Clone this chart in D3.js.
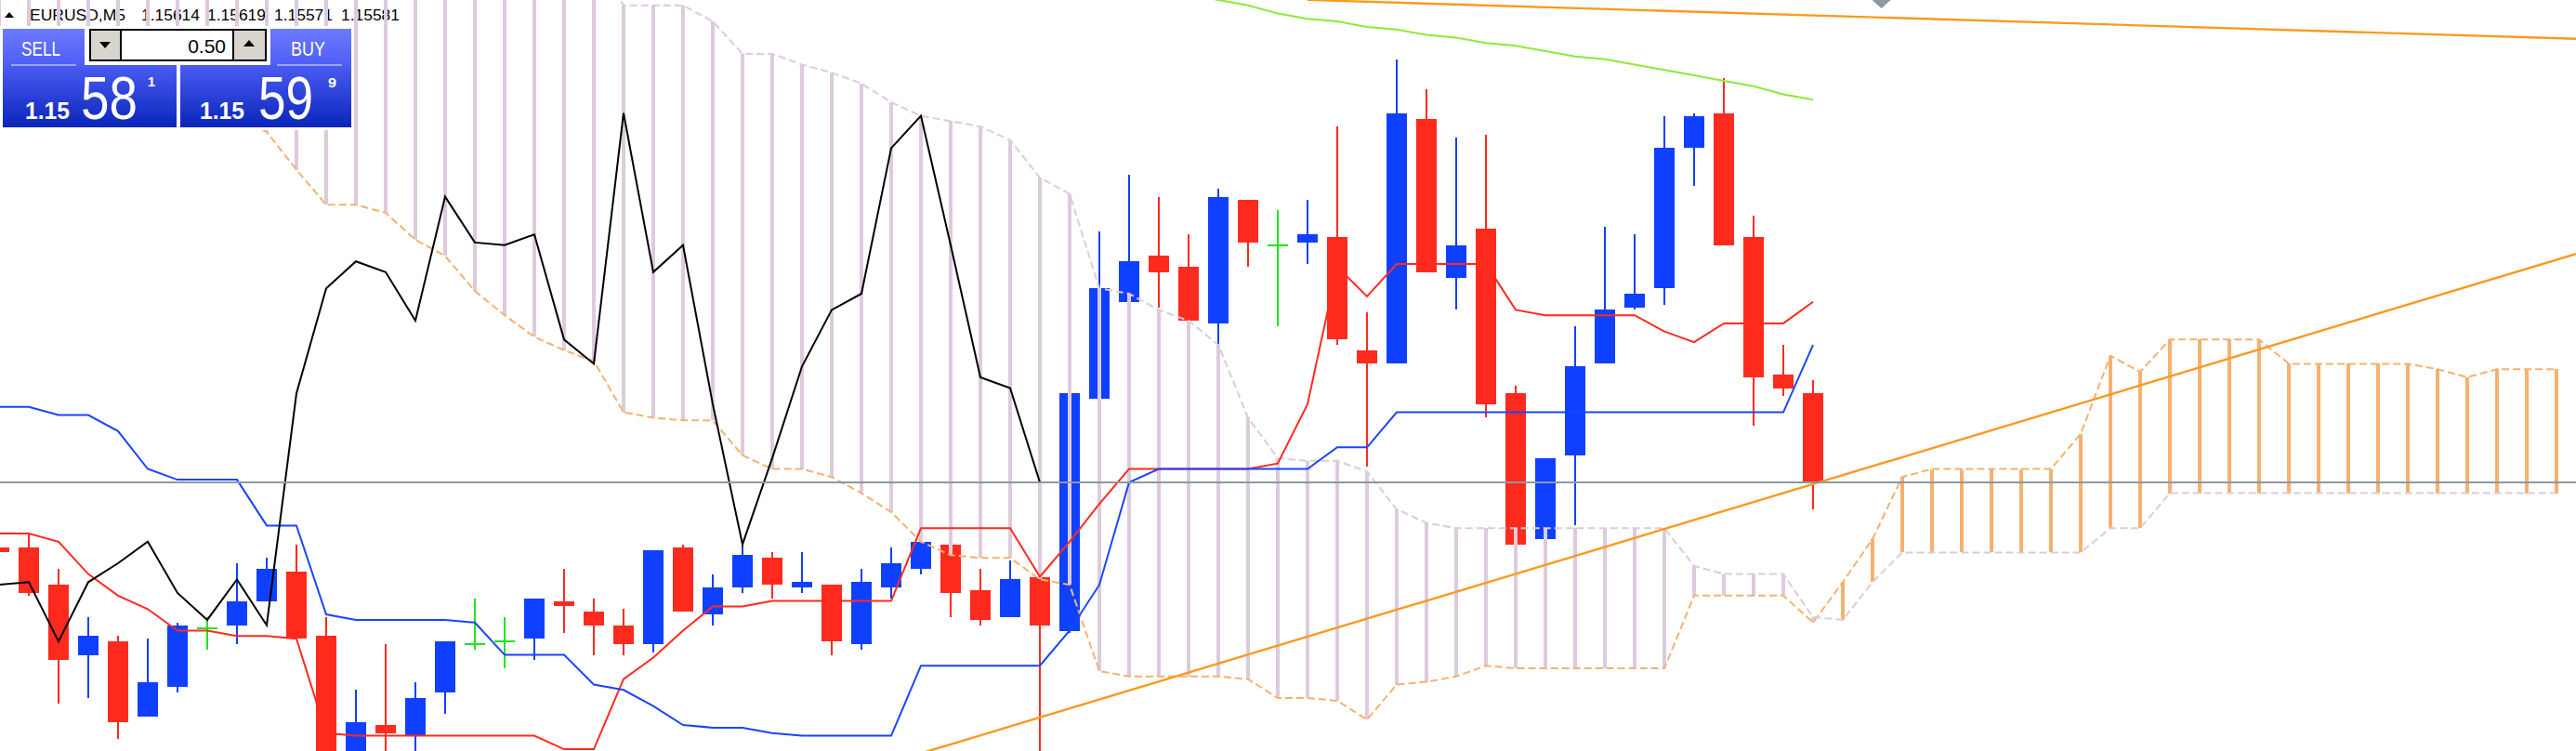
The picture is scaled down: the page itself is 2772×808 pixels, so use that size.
<!DOCTYPE html>
<html>
<head>
<meta charset="utf-8">
<script src="https://cdn.jsdelivr.net/npm/d3@7/dist/d3.min.js"></script>
<style>
html, body { margin: 0; padding: 0; background: #fff; overflow: hidden; }
svg { display: block; }
</style>
</head>
<body>
<script>
var w = 2772;
var h = 808;

// EURUSD M5 candles (bar 0 = leftmost, partly cut)
var open  = [1.15557,1.15557,1.15543,1.15517,1.15522,1.15494,1.15505,1.15527,1.15528,1.15537,
             1.15548,1.15524,1.15479,1.15491,1.15487,1.15503,1.15521,1.15522,1.15523,1.15537,
             1.15533,1.15528,1.15521,1.15557,1.15532,1.15542,1.15553,1.15542,1.15543,1.15521,
             1.15542,1.15549,1.15558,1.15541,1.15531,1.15546,1.15526,1.15612,1.15648,1.15665,
             1.15661,1.15640,1.15686,1.15669,1.15670,1.15672,1.15630,1.15625,1.15716,1.15657,
             1.15675,1.15614,1.15560,1.15591,1.15625,1.15646,1.15653,1.15705,1.15718,1.15672,
             1.15621,1.15614];
var high  = [1.15559,1.15562,1.15549,1.15531,1.15524,1.15523,1.15529,1.15531,1.15551,1.15553,
             1.15558,1.15531,1.15504,1.15521,1.15507,1.15522,1.15538,1.15531,1.15538,1.15549,
             1.15538,1.15534,1.15556,1.15558,1.15547,1.15558,1.15555,1.15555,1.15543,1.15549,
             1.15557,1.15559,1.15558,1.15549,1.15552,1.15547,1.15614,1.15674,1.15695,1.15687,
             1.15673,1.15690,1.15686,1.15682,1.15686,1.15713,1.15644,1.15738,1.15727,1.15709,
             1.15710,1.15617,1.15590,1.15639,1.15676,1.15673,1.15717,1.15718,1.15731,1.15680,
             1.15632,1.15619];
var low   = [1.15553,1.15539,1.15499,1.15501,1.15486,1.15494,1.15503,1.15519,1.15521,1.15537,
             1.15523,1.15469,1.15474,1.15470,1.15474,1.15495,1.15519,1.15512,1.15515,1.15525,
             1.15517,1.15517,1.15518,1.15533,1.15528,1.15540,1.15538,1.15540,1.15517,1.15519,
             1.15538,1.15547,1.15531,1.15528,1.15531,1.15474,1.15525,1.15612,1.15648,1.15646,
             1.15641,1.15632,1.15661,1.15639,1.15662,1.15632,1.15587,1.15625,1.15659,1.15645,
             1.15605,1.15558,1.15560,1.15565,1.15625,1.15645,1.15647,1.15691,1.15669,1.15602,
             1.15613,1.15571];
var close = [1.15555,1.15540,1.15515,1.15524,1.15492,1.15507,1.15528,1.15527,1.15537,1.15549,
             1.15523,1.15474,1.15492,1.15488,1.15501,1.15522,1.15521,1.15522,1.15538,1.15535,
             1.15528,1.15521,1.15556,1.15533,1.15542,1.15554,1.15543,1.15544,1.15522,1.15544,
             1.15551,1.15559,1.15540,1.15530,1.15545,1.15528,1.15614,1.15653,1.15663,1.15659,
             1.15641,1.15687,1.15670,1.15669,1.15673,1.15634,1.15625,1.15718,1.15659,1.15669,
             1.15610,1.15558,1.15590,1.15624,1.15645,1.15651,1.15705,1.15717,1.15669,1.15620,
             1.15616,1.15581];

// Ichimoku
var tenkan = [1.15562,1.15562,1.15559,1.15547,1.15539,1.15534,1.15526,1.15526,1.15524,1.15524,
              1.15523,1.15488,1.15487,1.15487,1.15487,1.15487,1.15487,1.15487,1.15487,1.15482,
              1.15482,1.15508,1.15516,1.15526,1.15535,1.15535,1.15537,1.15537,1.15537,1.15537,
              1.15537,1.15564,1.15564,1.15564,1.15564,1.15546,1.15559,1.15573,1.15586,1.15586,
              1.15586,1.15586,1.15586,1.15588,1.15610,1.15661,1.15650,1.15662,1.15662,1.15662,
              1.15662,1.15645,1.15643,1.15643,1.15643,1.15643,1.15637,1.15633,1.15640,1.15640,
              1.15640,1.15648];
var kijun  = [1.15609,1.15609,1.15606,1.15606,1.15600,1.15586,1.15582,1.15582,1.15582,1.15565,
              1.15565,1.15532,1.15530,1.15530,1.15530,1.15530,1.15529,1.15517,1.15517,1.15517,
              1.15506,1.15504,1.15498,1.15491,1.15490,1.15490,1.15488,1.15487,1.15487,1.15487,
              1.15487,1.15513,1.15513,1.15513,1.15513,1.15513,1.15526,1.15543,1.15581,1.15586,
              1.15586,1.15586,1.15586,1.15586,1.15586,1.15594,1.15594,1.15607,1.15607,1.15607,
              1.15607,1.15607,1.15607,1.15607,1.15607,1.15607,1.15607,1.15607,1.15607,1.15607,
              1.15607,1.15632];
var chikou = [1.15543,1.15544,1.15522,1.15544,1.15551,1.15559,1.15540,1.15530,1.15545,1.15528,
              1.15614,1.15653,1.15663,1.15659,1.15641,1.15687,1.15670,1.15669,1.15673,1.15634,
              1.15625,1.15718,1.15659,1.15669,1.15610,1.15558,1.15590,1.15624,1.15645,1.15651,
              1.15705,1.15717,1.15669,1.15620,1.15616,1.15581];
var spanA  = [1.15722,1.15722,1.15721,1.15720,1.15720,1.15719,1.15719,1.15718,1.15717,1.15711,
              1.15697,1.15684,1.15684,1.15681,1.15671,1.15665,1.15652,1.15643,1.15635,1.15630,
              1.15626,1.15607,1.15605,1.15604,1.15604,1.15591,1.15586,1.15586,1.15583,1.15577,
              1.15570,1.15559,1.15554,1.15553,1.15553,1.15545,1.15543,1.15511,1.15509,1.15509,
              1.15509,1.15509,1.15508,1.15501,1.15501,1.15500,1.15493,1.15506,1.15507,1.15509,
              1.15513,1.15512,1.15512,1.15512,1.15512,1.15512,1.15512,1.15539,1.15539,1.15539,
              1.15539,1.15529,1.15544,1.15560,1.15583,1.15586,1.15586,1.15586,1.15586,1.15586,
              1.15599,1.15628,1.15622,1.15634,1.15634,1.15634,1.15634,1.15625,1.15625,1.15625,
              1.15625,1.15625,1.15623,1.15620,1.15623,1.15623,1.15623];
var spanB  = [1.15776,1.15776,1.15776,1.15776,1.15776,1.15776,1.15776,1.15776,1.15776,1.15776,
              1.15776,1.15776,1.15776,1.15776,1.15776,1.15776,1.15776,1.15776,1.15776,1.15776,
              1.15776,1.15758,1.15758,1.15758,1.15752,1.15740,1.15740,1.15736,1.15733,1.15729,
              1.15722,1.15717,1.15715,1.15713,1.15708,1.15694,1.15688,1.15653,1.15651,1.15645,
              1.15641,1.15632,1.15605,1.15590,1.15589,1.15589,1.15585,1.15571,1.15566,1.15564,
              1.15564,1.15564,1.15564,1.15564,1.15564,1.15564,1.15564,1.15550,1.15547,1.15547,
              1.15547,1.15531,1.15530,1.15544,1.15555,1.15555,1.15555,1.15555,1.15555,1.15555,
              1.15555,1.15564,1.15564,1.15577,1.15577,1.15577,1.15577,1.15577,1.15577,1.15577,
              1.15577,1.15577,1.15577,1.15577,1.15577,1.15577,1.15577];

// moving average at the top, starts at bar 40
var maStart = 40;
var maValues = [1.15762,1.15760,1.15758,1.15755,1.15753,1.15752,1.15750,1.15749,1.15747,1.15746,
                1.15744,1.15743,1.15741,1.15739,1.15738,1.15736,1.15734,1.15732,1.15730,1.15728,
                1.15725,1.15723];

// trendlines (bar, price)
var trendLow  = [{bar: 31, price: 1.154805}, {bar: 86, price: 1.156636}];
var trendHigh = [{bar: 44, price: 1.157600}, {bar: 86, price: 1.157458}];

var symbol = "EURUSD,M5";
var bid = 1.15581;
var ask = 1.15599;
var lots = "0.50";
var shiftMarkBar = 63.3;

var bullColor = "#1040ff", bearColor = "#ff2a1e", dojiColor = "#1ee61e";
var sandy = "#f5b170", thistle = "#dccbdc";

var x = d3.scaleLinear().domain([0, 86]).range([-1, 2751]);
var y = d3.scaleLinear().domain([1.15581, 1.15681]).range([519, 229]);

var svg = d3.select("body").append("svg")
	.attr("width", w)
	.attr("height", h);
svg.append("rect").attr("width", w).attr("height", h).attr("fill", "#fff");

// header line
var hdr = svg.append("g").attr("font-family", "Liberation Sans, Arial, sans-serif")
	.attr("font-size", 17).attr("fill", "#000");
hdr.append("path").attr("d", "M5,19L15,19L10,13Z");
hdr.append("text").attr("x", 32).attr("y", 22).attr("textLength", 103)
	.attr("lengthAdjust", "spacingAndGlyphs").text(symbol);
var last = open.length - 1;
var ohlc = [open[last], high[last], low[last], close[last]];
var ohlcX = [152, 223, 295, 367];
hdr.selectAll("text.ohlc").data(ohlc).enter().append("text")
	.attr("class", "ohlc")
	.attr("x", function(d, i){ return ohlcX[i]; })
	.attr("y", 22)
	.attr("textLength", 63)
	.attr("lengthAdjust", "spacingAndGlyphs")
	.text(function(d){ return d.toFixed(5); });

// candles
var candles = d3.range(open.length).map(function(i){
	return {i: i, o: open[i], h: high[i], l: low[i], c: close[i]};
});
function candleColor(d){
	if (d.c > d.o) return bullColor;
	if (d.c < d.o) return bearColor;
	return dojiColor;
}
var gC = svg.append("g").attr("shape-rendering", "crispEdges");
gC.selectAll("line.wick").data(candles).enter().append("line")
	.attr("x1", function(d){ return x(d.i); })
	.attr("x2", function(d){ return x(d.i); })
	.attr("y1", function(d){ return y(d.h); })
	.attr("y2", function(d){ return y(d.l); })
	.attr("stroke", candleColor)
	.attr("stroke-width", 2);
gC.selectAll("rect.body").data(candles.filter(function(d){ return d.o !== d.c; })).enter().append("rect")
	.attr("x", function(d){ return x(d.i) - 11; })
	.attr("width", 22)
	.attr("y", function(d){ return y(Math.max(d.o, d.c)); })
	.attr("height", function(d){ return Math.max(2, Math.abs(y(d.o) - y(d.c))); })
	.attr("fill", candleColor);
gC.selectAll("line.doji").data(candles.filter(function(d){ return d.o === d.c; })).enter().append("line")
	.attr("x1", function(d){ return x(d.i) - 11; })
	.attr("x2", function(d){ return x(d.i) + 11; })
	.attr("y1", function(d){ return y(d.c); })
	.attr("y2", function(d){ return y(d.c); })
	.attr("stroke", dojiColor)
	.attr("stroke-width", 2);

// cloud hatching
var cloud = d3.range(spanA.length).map(function(i){ return {i: i, a: spanA[i], b: spanB[i]}; });
svg.append("g").attr("shape-rendering", "crispEdges")
	.selectAll("line").data(cloud).enter().append("line")
	.attr("x1", function(d){ return x(d.i); })
	.attr("x2", function(d){ return x(d.i); })
	.attr("y1", function(d){ return y(d.a); })
	.attr("y2", function(d){ return y(d.b); })
	.attr("stroke", function(d){ return d.a >= d.b ? sandy : thistle; })
	.attr("stroke-width", 4);

var line = d3.line()
	.x(function(d, i){ return x(i); })
	.y(function(d){ return y(d); });

svg.append("path").datum(spanA).attr("d", line).attr("fill", "none")
	.attr("stroke", sandy).attr("stroke-width", 2).attr("stroke-dasharray", "8,4");
svg.append("path").datum(spanB).attr("d", line).attr("fill", "none")
	.attr("stroke", thistle).attr("stroke-width", 2).attr("stroke-dasharray", "8,4");

svg.append("path").datum(tenkan).attr("d", line).attr("fill", "none")
	.attr("stroke", "#ff2a1e").attr("stroke-width", 2);
svg.append("path").datum(kijun).attr("d", line).attr("fill", "none")
	.attr("stroke", "#1a44ff").attr("stroke-width", 2);
svg.append("path").datum(chikou).attr("d", line).attr("fill", "none")
	.attr("stroke", "#000").attr("stroke-width", 2);

// moving average
var maLine = d3.line()
	.x(function(d, i){ return x(i + maStart); })
	.y(function(d){ return y(d); });
svg.append("path").datum(maValues).attr("d", maLine).attr("fill", "none")
	.attr("stroke", "#8fe83a").attr("stroke-width", 2);

// trendline rays, extended to the right edge
function ray(p){
	var slope = (p[1].price - p[0].price) / (p[1].bar - p[0].bar);
	var endBar = x.invert(w);
	return [[x(p[0].bar), y(p[0].price)], [x(endBar), y(p[0].price + slope * (endBar - p[0].bar))]];
}
[trendLow, trendHigh].forEach(function(t){
	svg.append("path").attr("d", d3.line()(ray(t))).attr("fill", "none")
		.attr("stroke", "#f89a1f").attr("stroke-width", 2.4);
});

// bid line
svg.append("line").attr("x1", 0).attr("x2", w).attr("y1", y(bid)).attr("y2", y(bid))
	.attr("stroke", "#8d98a2").attr("stroke-width", 2).attr("shape-rendering", "crispEdges");

// chart shift marker
var sx = x(shiftMarkBar);
svg.append("path").attr("d", "M" + (sx - 10) + ",0L" + (sx + 10) + ",0L" + sx + ",9Z").attr("fill", "#8d98a2");

// one click trading panel
var defs = svg.append("defs");
function grad(id, c1, c2){
	var g = defs.append("linearGradient").attr("id", id)
		.attr("x1", 0).attr("y1", 0).attr("x2", 0).attr("y2", 1);
	g.append("stop").attr("offset", "0%").attr("stop-color", c1);
	g.append("stop").attr("offset", "100%").attr("stop-color", c2);
}
grad("hdrGrad", "#6c7aff", "#4e5ef4");
grad("prcGrad", "#4a5cf2", "#0a25bb");

var panel = svg.append("g").attr("shape-rendering", "crispEdges");
panel.append("rect").attr("x", 0).attr("y", 28).attr("width", 381).attr("height", 112).attr("fill", "#fff");
panel.append("rect").attr("x", 3).attr("y", 31).attr("width", 88).attr("height", 39).attr("fill", "url(#hdrGrad)");
panel.append("rect").attr("x", 3).attr("y", 70).attr("width", 187).attr("height", 67).attr("fill", "url(#prcGrad)");
panel.append("rect").attr("x", 291).attr("y", 31).attr("width", 87).attr("height", 39).attr("fill", "url(#hdrGrad)");
panel.append("rect").attr("x", 194).attr("y", 70).attr("width", 184).attr("height", 67).attr("fill", "url(#prcGrad)");
panel.append("rect").attr("x", 12).attr("y", 69).attr("width", 70).attr("height", 2).attr("fill", "#9aa6ff");
panel.append("rect").attr("x", 298).attr("y", 69).attr("width", 70).attr("height", 2).attr("fill", "#9aa6ff");

// lot box
panel.append("rect").attr("x", 97).attr("y", 32).attr("width", 189).attr("height", 33)
	.attr("fill", "#fff").attr("stroke", "#000").attr("stroke-width", 2);
panel.append("rect").attr("x", 98).attr("y", 33).attr("width", 31).attr("height", 31).attr("fill", "#d8d5cf");
panel.append("rect").attr("x", 252).attr("y", 33).attr("width", 33).attr("height", 31).attr("fill", "#d8d5cf");
panel.append("rect").attr("x", 129).attr("y", 32).attr("width", 2).attr("height", 33).attr("fill", "#000");
panel.append("rect").attr("x", 250).attr("y", 32).attr("width", 2).attr("height", 33).attr("fill", "#000");
panel.append("path").attr("d", "M107,45L119,45L113,52Z").attr("fill", "#000").attr("shape-rendering", "auto");
panel.append("path").attr("d", "M262,50L274,50L268,43Z").attr("fill", "#000").attr("shape-rendering", "auto");

var font = "Liberation Sans, Arial, sans-serif";
function txt(s, tx, ty, size, len, opts){
	opts = opts || {};
	var t = panel.append("text").attr("x", tx).attr("y", ty)
		.attr("font-family", font).attr("font-size", size)
		.attr("fill", opts.fill || "#fff")
		.attr("font-weight", opts.bold ? "bold" : "normal")
		.attr("shape-rendering", "auto")
		.text(s);
	if (opts.anchor) t.attr("text-anchor", opts.anchor);
	if (len) t.attr("textLength", len).attr("lengthAdjust", "spacingAndGlyphs");
	return t;
}
txt("SELL", 23, 60, 22, 42);
txt("BUY", 313, 60, 22, 37);
txt(lots, 243, 57, 21, null, {fill: "#000", anchor: "end"});

var b = bid.toFixed(5), a = ask.toFixed(5);
txt(b.slice(0, 4), 27, 128, 25, 48, {bold: true});
txt(b.slice(4, 6), 87, 128, 64, 61);
txt(b.slice(6), 159, 93, 15, 8, {bold: true});
txt(a.slice(0, 4), 215, 128, 25, 48, {bold: true});
txt(a.slice(4, 6), 278, 128, 64, 59);
txt(a.slice(6), 353, 94, 15, 9, {bold: true});
</script>
</body>
</html>
